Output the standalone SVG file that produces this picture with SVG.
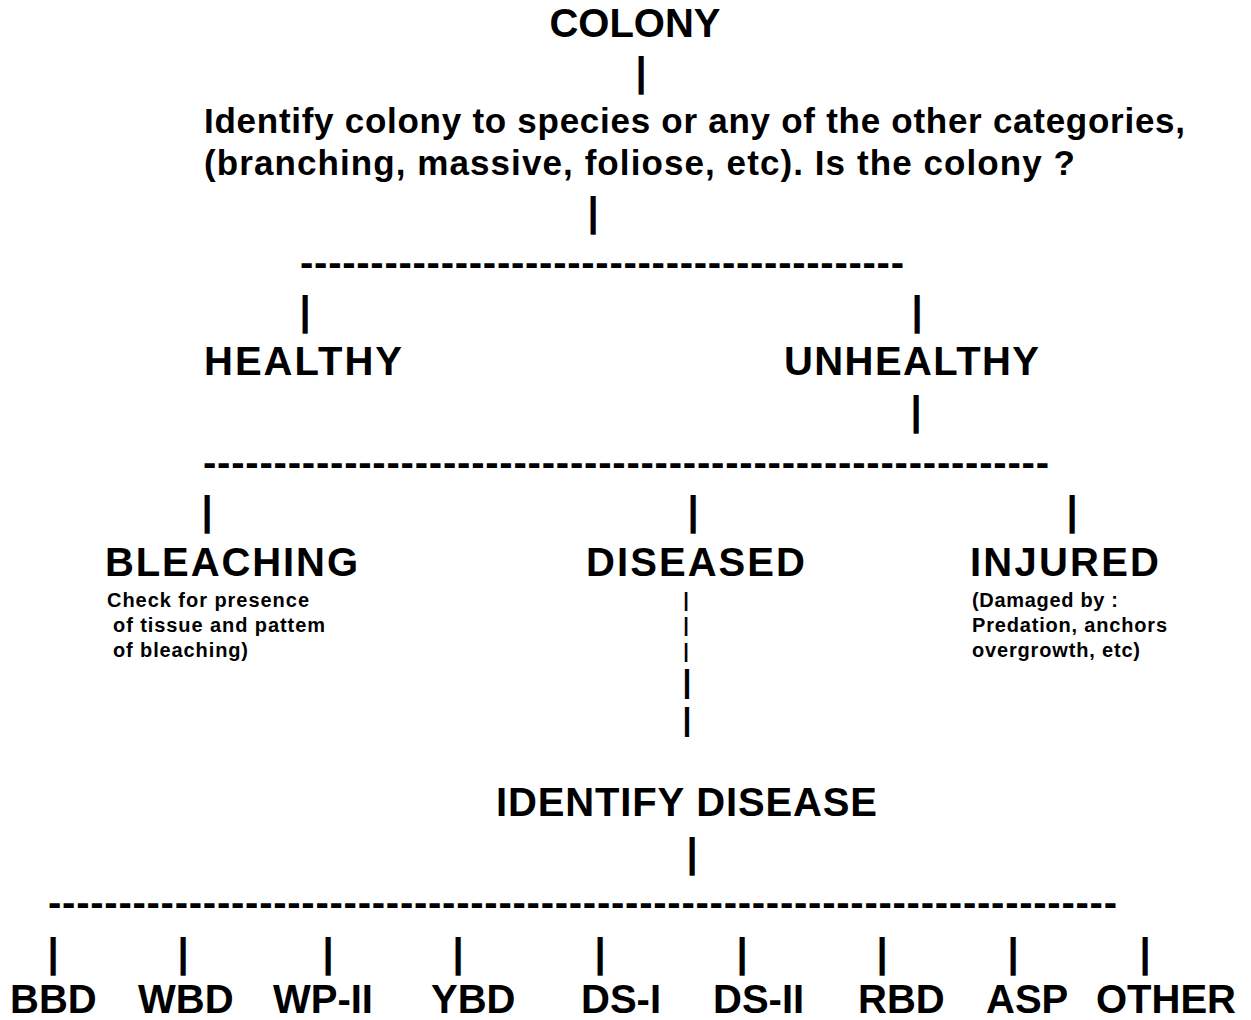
<svg xmlns="http://www.w3.org/2000/svg" width="1251" height="1020" viewBox="0 0 1251 1020">
<style>
text{font-family:"Liberation Sans",Arial,sans-serif;font-weight:bold;fill:#000}
.big{font-size:40px}
.mid{font-size:35px}
.sm{font-size:20px}
.bar{font-size:40px;text-anchor:middle}
.bars{font-size:20px;text-anchor:middle}
.barm{font-size:32px;text-anchor:middle}
.dash{font-size:40px}
.c{text-anchor:middle}
</style>
<rect width="1251" height="1020" fill="#fff"/>
<g id="connectors">
<text class="bar" x="641" y="86">|</text>
<text class="bar" x="593" y="226">|</text>
<text class="dash" x="300" y="276" textLength="604" lengthAdjust="spacing">-------------------------------------------</text>
<text class="bar" x="305" y="325">|</text>
<text class="bar" x="917" y="325">|</text>
<text class="bar" x="916" y="425">|</text>
<text class="dash" x="203" y="476" textLength="846" lengthAdjust="spacing">------------------------------------------------------------</text>
<text class="bar" x="207" y="525">|</text>
<text class="bar" x="693" y="525">|</text>
<text class="bar" x="1072" y="525">|</text>
<text class="bars" x="686" y="607">|</text>
<text class="bars" x="686" y="632">|</text>
<text class="bars" x="686" y="658">|</text>
<text class="barm" x="687" y="692">|</text>
<text class="barm" x="687" y="730">|</text>
<text class="bar" x="692" y="867">|</text>
<text class="dash" x="48" y="916" textLength="1069" lengthAdjust="spacing">----------------------------------------------------------------------------</text>
<text class="bar" x="53" y="967">|</text>
<text class="bar" x="183" y="967">|</text>
<text class="bar" x="328" y="967">|</text>
<text class="bar" x="458" y="967">|</text>
<text class="bar" x="600" y="967">|</text>
<text class="bar" x="742" y="967">|</text>
<text class="bar" x="882" y="967">|</text>
<text class="bar" x="1013" y="967">|</text>
<text class="bar" x="1145" y="967">|</text>
</g>
<g id="colony"><text class="big c" x="635" y="37">COLONY</text></g>
<g id="identify-colony">
<text class="mid" x="204" y="133" textLength="981" lengthAdjust="spacing">Identify colony to species or any of the other categories,</text>
<text class="mid" x="204" y="175" textLength="871" lengthAdjust="spacing">(branching, massive, foliose, etc). Is the colony ?</text>
</g>
<g id="healthy"><text class="big" x="204" y="375" textLength="198" lengthAdjust="spacing">HEALTHY</text></g>
<g id="unhealthy"><text class="big" x="784" y="375" textLength="255" lengthAdjust="spacing">UNHEALTHY</text></g>
<g id="bleaching">
<text class="big" x="105" y="576" textLength="253" lengthAdjust="spacing">BLEACHING</text>
<text class="sm" x="107" y="607" textLength="202" lengthAdjust="spacing">Check for presence</text>
<text class="sm" x="113" y="632" textLength="212" lengthAdjust="spacing">of tissue and pattem</text>
<text class="sm" x="113" y="657" textLength="135" lengthAdjust="spacing">of bleaching)</text>
</g>
<g id="diseased"><text class="big" x="586" y="576" textLength="219" lengthAdjust="spacing">DISEASED</text></g>
<g id="injured">
<text class="big" x="970" y="576" textLength="189" lengthAdjust="spacing">INJURED</text>
<text class="sm" x="972" y="607" textLength="146" lengthAdjust="spacing">(Damaged by :</text>
<text class="sm" x="972" y="632" textLength="195" lengthAdjust="spacing">Predation, anchors</text>
<text class="sm" x="972" y="657" textLength="168" lengthAdjust="spacing">overgrowth, etc)</text>
</g>
<g id="identify-disease"><text class="big" x="496" y="816" textLength="381" lengthAdjust="spacing">IDENTIFY DISEASE</text></g>
<g id="bbd"><text class="big" x="10" y="1013">BBD</text></g>
<g id="wbd"><text class="big" x="138" y="1013">WBD</text></g>
<g id="wp-ii"><text class="big" x="273" y="1013">WP-II</text></g>
<g id="ybd"><text class="big" x="431" y="1013">YBD</text></g>
<g id="ds-i"><text class="big" x="581" y="1013">DS-I</text></g>
<g id="ds-ii"><text class="big" x="713" y="1013">DS-II</text></g>
<g id="rbd"><text class="big" x="858" y="1013">RBD</text></g>
<g id="asp"><text class="big" x="986" y="1013">ASP</text></g>
<g id="other"><text class="big" x="1096" y="1013">OTHER</text></g>
</svg>
